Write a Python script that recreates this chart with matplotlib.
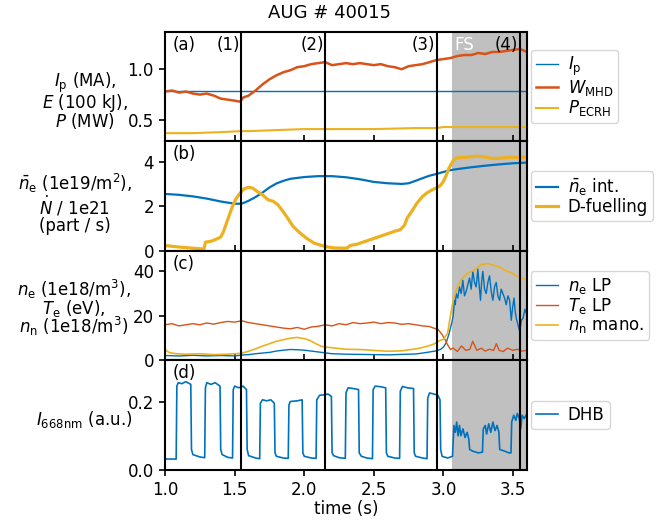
import numpy as np
import matplotlib
matplotlib.use("Agg")
import matplotlib.pyplot as plt

# ---- panel (a): plasma current, stored energy, heating power ----
ip_t = [1.00, 3.60]
ip = [0.79, 0.79]

wmhd_t = [1.00, 1.05, 1.10, 1.15, 1.20, 1.25, 1.30, 1.35, 1.40, 1.45, 1.50, 1.54,
          1.56, 1.60, 1.65, 1.70, 1.75, 1.80, 1.85, 1.90, 1.95, 2.00, 2.05, 2.10,
          2.15, 2.20, 2.25, 2.30, 2.35, 2.40, 2.45, 2.50, 2.55, 2.60, 2.65, 2.70,
          2.75, 2.80, 2.85, 2.90, 2.95, 3.00, 3.05, 3.10, 3.15, 3.20, 3.25, 3.30,
          3.35, 3.40, 3.45, 3.50, 3.55, 3.60]
wmhd = [0.78, 0.79, 0.77, 0.78, 0.76, 0.75, 0.76, 0.74, 0.71, 0.70, 0.69, 0.68,
        0.72, 0.74, 0.79, 0.85, 0.90, 0.94, 0.97, 0.99, 1.02, 1.03, 1.05, 1.06,
        1.07, 1.04, 1.05, 1.06, 1.05, 1.06, 1.05, 1.04, 1.05, 1.03, 1.02, 1.00,
        1.03, 1.04, 1.05, 1.07, 1.09, 1.10, 1.11, 1.13, 1.14, 1.14, 1.16, 1.15,
        1.17, 1.17, 1.18, 1.19, 1.20, 1.17]

pecrh_t = [1.00, 1.20, 1.40, 1.55, 1.60, 1.80, 2.00, 2.20, 2.50, 2.80, 2.95, 3.00,
           3.20, 3.60]
pecrh = [0.37, 0.37, 0.38, 0.39, 0.39, 0.40, 0.41, 0.41, 0.41, 0.42, 0.42, 0.43,
         0.43, 0.43]

# ---- panel (b): line-integrated density and D fuelling ----
neint_t = [1.00, 1.10, 1.20, 1.30, 1.40, 1.45, 1.50, 1.55, 1.60, 1.65, 1.70, 1.75,
           1.80, 1.85, 1.90, 2.00, 2.10, 2.20, 2.30, 2.40, 2.50, 2.60, 2.70, 2.75,
           2.80, 2.85, 2.90, 2.95, 3.00, 3.05, 3.10, 3.20, 3.30, 3.40, 3.50, 3.60]
neint = [2.56, 2.52, 2.45, 2.35, 2.22, 2.17, 2.12, 2.12, 2.25, 2.42, 2.62, 2.85,
         3.03, 3.15, 3.24, 3.32, 3.36, 3.36, 3.31, 3.22, 3.10, 3.04, 3.01, 3.04,
         3.15, 3.27, 3.38, 3.46, 3.55, 3.63, 3.68, 3.76, 3.83, 3.89, 3.94, 3.97]

dfuel_t = [1.00, 1.10, 1.20, 1.28, 1.29, 1.33, 1.37, 1.40, 1.42, 1.45, 1.48, 1.51,
           1.54, 1.57, 1.60, 1.63, 1.66, 1.70, 1.74, 1.78, 1.81, 1.85, 1.88, 1.92,
           1.97, 2.02, 2.07, 2.12, 2.17, 2.22, 2.28, 2.31, 2.33, 2.38, 2.45, 2.52,
           2.59, 2.65, 2.69, 2.72, 2.74, 2.78, 2.81, 2.85, 2.88, 2.92, 2.95, 2.98,
           3.00, 3.02, 3.04, 3.07, 3.09, 3.15, 3.24, 3.30, 3.36, 3.42, 3.48, 3.54,
           3.60]
dfuel = [0.24, 0.17, 0.12, 0.08, 0.39, 0.43, 0.53, 0.62, 0.87, 1.40, 1.93, 2.35,
         2.60, 2.80, 2.86, 2.82, 2.68, 2.52, 2.30, 2.22, 2.08, 1.75, 1.48, 1.10,
         0.80, 0.55, 0.35, 0.25, 0.17, 0.13, 0.12, 0.13, 0.24, 0.30, 0.45, 0.60,
         0.75, 0.88, 0.95, 1.15, 1.48, 1.85, 2.15, 2.45, 2.60, 2.75, 2.83, 2.95,
         3.13, 3.40, 3.73, 4.05, 4.18, 4.20, 4.26, 4.22, 4.15, 4.18, 4.21, 4.20,
         4.21]

# ---- panel (c): Langmuir probe density / temperature, neutral density ----
nelp_t = [1.00, 1.10, 1.20, 1.30, 1.40, 1.50, 1.55, 1.60, 1.65, 1.70, 1.75, 1.80,
          1.85, 1.90, 1.95, 2.00, 2.05, 2.10, 2.15, 2.20, 2.30, 2.40, 2.50, 2.60,
          2.70, 2.80, 2.85, 2.90, 2.95, 2.98, 3.00, 3.02, 3.04, 3.06, 3.070, 3.079,
          3.085, 3.091, 3.103, 3.115, 3.127, 3.139, 3.151, 3.163, 3.175, 3.187,
          3.199, 3.211, 3.223, 3.235, 3.247, 3.256, 3.266, 3.275, 3.283, 3.295,
          3.307, 3.319, 3.331, 3.343, 3.355, 3.367, 3.379, 3.391, 3.403, 3.415,
          3.427, 3.439, 3.451, 3.463, 3.475, 3.487, 3.497, 3.507, 3.515, 3.523,
          3.535, 3.547, 3.560, 3.572, 3.585, 3.596]
nelp = [2.2, 2.0, 2.3, 2.0, 2.2, 2.0, 2.4, 2.6, 3.0, 3.3, 3.6, 4.2,
        4.6, 4.9, 4.8, 4.6, 4.2, 3.8, 3.4, 3.0, 2.8, 2.7, 2.6, 2.5,
        2.7, 2.9, 3.3, 3.8, 4.3, 5.0, 6.0, 8.0, 12.0, 17.0, 20.0, 27.0,
        25.0, 30.0, 28.0, 33.0, 30.0, 36.0, 29.0, 31.0, 34.0, 37.0,
        32.0, 40.0, 35.0, 33.0, 41.0, 34.0, 27.0, 36.0, 40.0, 32.0,
        30.0, 35.0, 38.0, 31.0, 27.0, 33.0, 35.0, 29.0, 27.0, 32.0,
        30.0, 28.0, 25.0, 29.0, 27.0, 18.0, 24.0, 28.0, 22.0, 19.0,
        16.0, 13.0, 18.0, 19.0, 23.0, 21.0]

te_t = [1.00, 1.05, 1.10, 1.15, 1.20, 1.25, 1.30, 1.35, 1.40, 1.45, 1.50, 1.55,
        1.60, 1.65, 1.70, 1.75, 1.80, 1.85, 1.90, 1.95, 2.00, 2.05, 2.10, 2.15,
        2.20, 2.25, 2.30, 2.35, 2.40, 2.45, 2.50, 2.55, 2.60, 2.65, 2.70, 2.75,
        2.80, 2.85, 2.90, 2.93, 2.96, 2.99, 3.01, 3.03, 3.05, 3.07, 3.10, 3.13,
        3.16, 3.19, 3.21, 3.24, 3.27, 3.30, 3.33, 3.36, 3.38, 3.40, 3.43, 3.46,
        3.50, 3.53, 3.56, 3.60]
te = [16.0, 16.5, 15.5, 16.0, 16.5, 16.0, 16.8, 16.3, 17.0, 17.5, 17.2, 17.8,
      17.0, 16.5, 16.0, 15.5, 15.0, 14.5, 14.2, 14.8, 14.0, 15.0, 15.3, 16.0,
      15.5, 16.5, 16.0, 17.0, 16.5, 16.8, 17.2, 16.5, 17.0, 16.8, 16.2, 16.5,
      16.0, 15.5, 15.2, 14.5, 14.0, 11.6, 9.5, 7.0, 4.9, 5.5, 4.0, 6.5,
      4.5, 5.0, 8.6, 4.5, 5.5, 4.2, 5.0, 4.5, 7.5, 4.5, 4.0, 5.5,
      4.5, 5.0, 4.2, 4.5]

nn_t = [1.00, 1.03, 1.08, 1.15, 1.25, 1.35, 1.45, 1.55, 1.60, 1.65, 1.70, 1.75,
        1.80, 1.85, 1.90, 1.95, 2.00, 2.04, 2.08, 2.12, 2.15, 2.20, 2.30, 2.40,
        2.50, 2.60, 2.70, 2.78, 2.83, 2.88, 2.93, 2.97, 3.00, 3.03, 3.05, 3.07,
        3.10, 3.13, 3.17, 3.22, 3.27, 3.32, 3.36, 3.40, 3.44, 3.48, 3.52, 3.56,
        3.60]
nn = [4.9, 3.5, 3.0, 2.8, 3.0, 2.6, 2.8, 3.2, 4.1, 5.2, 6.4, 7.5,
      8.6, 9.3, 10.0, 10.3, 9.8, 9.0, 7.6, 6.4, 6.0, 5.7, 5.0, 4.9,
      4.5, 4.1, 4.3, 5.0, 5.5, 6.3, 7.3, 8.8, 9.5, 12.3, 20.0, 27.0,
      33.0, 36.5, 39.0, 40.5, 43.0, 43.5, 42.7, 42.0, 40.5, 39.5, 38.2, 37.0,
      36.0]

# ---- panel (d): D-alpha / DHB line intensity at 668 nm ----
dhb_t = [1.000, 1.080, 1.085, 1.095, 1.120, 1.150, 1.185, 1.190, 1.200, 1.250,
         1.285, 1.290, 1.300, 1.330, 1.360, 1.395, 1.400, 1.410, 1.450, 1.485,
         1.490, 1.500, 1.530, 1.560, 1.585, 1.590, 1.600, 1.650, 1.680, 1.685,
         1.700, 1.730, 1.760, 1.785, 1.790, 1.800, 1.850, 1.885, 1.890, 1.900,
         1.950, 1.985, 1.990, 2.000, 2.050, 2.085, 2.090, 2.110, 2.150, 2.170,
         2.195, 2.200, 2.210, 2.250, 2.295, 2.300, 2.315, 2.350, 2.390, 2.395,
         2.410, 2.450, 2.490, 2.495, 2.510, 2.550, 2.585, 2.590, 2.600, 2.650,
         2.685, 2.690, 2.705, 2.740, 2.785, 2.790, 2.800, 2.850, 2.882, 2.887,
         2.900, 2.930, 2.960, 2.975, 2.980, 2.990, 3.030, 3.065, 3.075, 3.085,
         3.095, 3.105, 3.115, 3.125, 3.140, 3.155, 3.170, 3.182, 3.188, 3.210,
         3.250, 3.280, 3.286, 3.300, 3.310, 3.325, 3.340, 3.355, 3.370, 3.385,
         3.398, 3.404, 3.440, 3.470, 3.485, 3.490, 3.505, 3.520, 3.530, 3.545,
         3.555, 3.565, 3.580, 3.600]
dhb = [0.032, 0.032, 0.245, 0.255, 0.252, 0.258, 0.250, 0.060, 0.045, 0.038,
       0.036, 0.240, 0.255, 0.250, 0.255, 0.245, 0.060, 0.045, 0.037, 0.035,
       0.235, 0.245, 0.240, 0.245, 0.235, 0.060, 0.042, 0.035, 0.033, 0.195,
       0.205, 0.202, 0.205, 0.195, 0.050, 0.040, 0.035, 0.034, 0.190, 0.200,
       0.202, 0.205, 0.050, 0.040, 0.035, 0.034, 0.205, 0.218, 0.220, 0.222,
       0.215, 0.050, 0.042, 0.036, 0.034, 0.225, 0.240, 0.238, 0.235, 0.050,
       0.040, 0.035, 0.033, 0.235, 0.245, 0.243, 0.240, 0.050, 0.040, 0.035,
       0.034, 0.230, 0.244, 0.240, 0.238, 0.050, 0.040, 0.035, 0.033, 0.210,
       0.225, 0.222, 0.218, 0.205, 0.060, 0.040, 0.035, 0.040, 0.130, 0.110,
       0.140, 0.100, 0.130, 0.100, 0.120, 0.095, 0.110, 0.090, 0.060, 0.055,
       0.050, 0.052, 0.120, 0.130, 0.105, 0.135, 0.110, 0.140, 0.115, 0.130,
       0.110, 0.060, 0.055, 0.050, 0.050, 0.140, 0.160, 0.145, 0.165, 0.150,
       0.120, 0.160, 0.150, 0.165]

# phase boundaries and the flux-surface (FS) interval
phase_lines = [1.545, 2.15, 2.95, 3.547]
phase_names = ["(1)", "(2)", "(3)", "(4)"]
fs_start, fs_end = 3.06, 3.60

C_BLUE = "#0072BD"
C_RED = "#D95319"
C_YEL = "#EDB120"

plt.rcParams.update({
    "font.family": ["DejaVu Sans"],
    "font.size": 12,
    "axes.linewidth": 1.5,
    "xtick.major.width": 1.2,
    "ytick.major.width": 1.2,
    "xtick.major.size": 4.5,
    "ytick.major.size": 4.5,
})

fig = plt.figure(figsize=(6.58, 5.21), dpi=100)
axes = fig.subplots(4, 1, sharex=True)
fig.subplots_adjust(left=0.2508, right=0.8009, top=0.9392, bottom=0.0979, hspace=0)
ax_a, ax_b, ax_c, ax_d = axes

for ax in axes:
    ax.axvspan(fs_start, fs_end, color="#c0c0c0", lw=0, zorder=0)
    for x in phase_lines:
        ax.axvline(x, color="black", lw=1.5, zorder=3)

ax_a.plot(ip_t, ip, color=C_BLUE, lw=1.0, label=r"$I_\mathrm{p}$")
ax_a.plot(wmhd_t, wmhd, color=C_RED, lw=1.8, label=r"$W_\mathrm{MHD}$")
ax_a.plot(pecrh_t, pecrh, color=C_YEL, lw=1.5, label=r"$P_\mathrm{ECRH}$")
ax_a.set_ylim(0.29, 1.37)
ax_a.set_yticks([0.5, 1.0])

ax_b.plot(neint_t, neint, color=C_BLUE, lw=1.6, label=r"$\bar{n}_\mathrm{e}$ int.")
ax_b.plot(dfuel_t, dfuel, color=C_YEL, lw=2.3, label="D-fuelling")
ax_b.set_ylim(0, 4.93)
ax_b.set_yticks([0, 2, 4])

ax_c.plot(nelp_t, nelp, color=C_BLUE, lw=1.0, label=r"$n_\mathrm{e}$ LP")
ax_c.plot(te_t, te, color=C_RED, lw=1.0, label=r"$T_\mathrm{e}$ LP")
ax_c.plot(nn_t, nn, color=C_YEL, lw=1.2, label=r"$n_\mathrm{n}$ mano.")
ax_c.set_ylim(0, 49.2)
ax_c.set_yticks([0, 20, 40])

ax_d.plot(dhb_t, dhb, color=C_BLUE, lw=1.2, label="DHB")
ax_d.set_ylim(0, 0.32)
ax_d.set_yticks([0.0, 0.2])

ax_d.set_xlim(1.0, 3.6)
ax_d.set_xticks([1.0, 1.5, 2.0, 2.5, 3.0, 3.5])
ax_d.set_xlabel("time (s)", labelpad=1)
for ax in axes[:3]:
    ax.tick_params(axis="x", direction="in")

ylabels = [
    (r"$I_\mathrm{p}$ (MA),""\n"r"$E$ (100 kJ),""\n"r"$P$ (MW)", -0.221, 0.37, 0.8),
    (r"$\bar{n}_\mathrm{e}$ (1e19/m$^2$),""\n"r"$\dot{N}$ / 1e21""\n(part / s)", -0.249, 0.43, 0.95),
    (r"$n_\mathrm{e}$ (1e18/m$^3$),""\n"r"$T_\mathrm{e}$ (eV),""\n"r"$n_\mathrm{n}$ (1e18/m$^3$)", -0.252, 0.48, 0.8),
    (r"$I_\mathrm{668nm}$ (a.u.)", -0.224, 0.46, 1.0),
]
for ax, (txt, lx, ly, ls) in zip(axes, ylabels):
    ax.set_ylabel(txt, rotation=0, ha="center", va="center", multialignment="center",
                  linespacing=ls)
    ax.yaxis.set_label_coords(lx, ly)

for ax, tag in zip(axes, ["(a)", "(b)", "(c)", "(d)"]):
    ax.text(0.02, 0.965, tag, transform=ax.transAxes, ha="left", va="top", zorder=5)

for x, name in zip(phase_lines, phase_names):
    ax_a.text(x - 0.008, 1.37 - 0.04, name, ha="right", va="top", zorder=5)
ax_a.text(fs_start + 0.015, 1.37 - 0.04, "FS", color="white", ha="left", va="top", zorder=5)

for ax in axes:
    ax.legend(loc="center left", bbox_to_anchor=(1.0, 0.5), handlelength=1.3,
              labelspacing=0.02, borderpad=0.3, handletextpad=0.6, borderaxespad=0.25,
              fontsize=12)

fig.suptitle("AUG # 40015", x=0.5, y=0.993, va="top", fontsize=13)

fig.savefig("out.png", dpi=100)
